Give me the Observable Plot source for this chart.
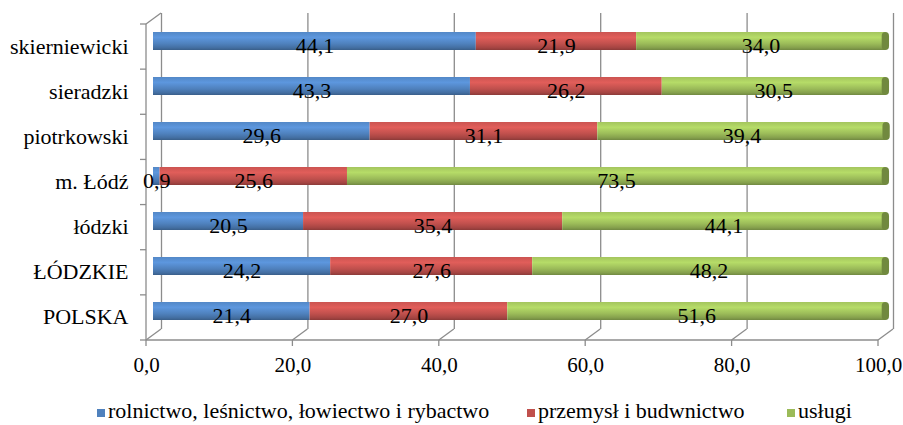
<!DOCTYPE html>
<html><head><meta charset="utf-8">
<script src="https://cdn.jsdelivr.net/npm/d3@7"></script>
<script src="https://cdn.jsdelivr.net/npm/@observablehq/plot@0.6"></script>
<style>
body{margin:0;background:#fff;font-family:'Liberation Serif';}
#wrap{position:relative;width:903px;height:425px;}
#legend{position:absolute;left:0;top:398px;width:903px;height:26px;font-family:'Liberation Serif';font-size:22px;color:#000;white-space:nowrap;}
#legend .item{position:absolute;top:0;height:26px;display:flex;align-items:center;}
#legend .sw{width:8px;height:8px;margin-right:3px;margin-top:3px;}
</style></head><body>
<div id="wrap"><div id="chart"></div><div id="legend"></div></div>
<script>
const categories = ["skierniewicki","sieradzki","piotrkowski","m. Łódź","łódzki","ŁÓDZKIE","POLSKA"];
const seriesNames = ["rolnictwo, leśnictwo, łowiectwo i rybactwo","przemysł i budwnictwo","usługi"];
const rolnictwo = [44.1,43.3,29.6,0.9,20.5,24.2,21.4];
const przemysl  = [21.9,26.2,31.1,25.6,35.4,27.6,27.0];
const uslugi    = [34.0,30.5,39.4,73.5,44.1,48.2,51.6];
const xTicks = [0,20,40,60,80,100];
const colors = ["#4f81bd","#c0504d","#9bbb59"];
const capColor = "#71893f";
const legendLeft = [97, 527, 787];

const seriesValues = [rolnictwo, przemysl, uslugi];
const rows = [];
seriesValues.forEach((vals, si) => vals.forEach((v, ci) => rows.push({category: categories[ci], series: seriesNames[si], si, value: v})));
const totals = categories.map((c, i) => ({category: c, total: rolnictwo[i] + przemysl[i] + uslugi[i]}));
const fmt = v => v.toFixed(1).replace(".", ",");

const BX = 7, BY = -6;
const FONT = "Liberation Serif";

function frame(index, scales, values, dim) {
  const g = d3.create("svg:g").attr("stroke", "#8c8c8c").attr("stroke-width", 1.3).attr("fill", "none");
  const x = scales.x;
  const top = dim.marginTop, bottom = dim.height - dim.marginBottom;
  const x0 = x(0), x1 = x(100);
  const step = (bottom - top) / categories.length;
  g.append("line").attr("x1", x0).attr("x2", x0).attr("y1", top).attr("y2", bottom);
  g.append("line").attr("x1", x0).attr("x2", x1).attr("y1", bottom).attr("y2", bottom);
  g.append("line").attr("x1", x0).attr("x2", x0 + 15).attr("y1", top).attr("y2", top - 11);
  for (const t of xTicks) {
    g.append("line").attr("x1", x(t)).attr("x2", x(t) + 15).attr("y1", bottom).attr("y2", bottom - 11);
    g.append("line").attr("x1", x(t)).attr("x2", x(t)).attr("y1", bottom).attr("y2", bottom + 6);
  }
  for (let k = 0; k <= categories.length; k++) {
    const yy = top + k * step;
    g.append("line").attr("x1", x0 - 6).attr("x2", x0).attr("y1", yy).attr("y2", yy);
  }
  return g.node();
}

const chart = Plot.plot({
  width: 903,
  height: 390,
  marginLeft: 146,
  marginRight: 25,
  marginTop: 24,
  marginBottom: 50,
  style: {fontFamily: FONT, fontSize: "22px", color: "#000", background: "#fff"},
  x: {domain: [0, 100]},
  y: {domain: categories, paddingInner: 0.6, paddingOuter: 0.3},
  color: {type: "identity"},
  marks: [
    Plot.ruleX(xTicks, {x: d => d, dx: 15, dy: -11, stroke: "#8c8c8c", strokeWidth: 1.3}),
    frame,
    Plot.axisX({ticks: xTicks, tickFormat: fmt, tickSize: 0, tickPadding: 17, fontSize: 21, fontFamily: FONT, label: null}),
    Plot.axisY({tickSize: 0, tickPadding: 18, fontSize: 22, fontFamily: FONT, dy: -1, label: null}),
    Plot.barX(rows, Plot.stackX({x: "value", y: "category", fill: d => `url(#grad${d.si})`, dx: BX, dy: BY})),
    Plot.barX(totals, {x1: d => d.total - 0.45, x2: d => d.total + 0.55, y: "category", fill: capColor, rx: 4, dx: BX, dy: BY}),
    Plot.text(rows, Plot.stackX({x: "value", y: "category", text: d => fmt(d.value), dx: BX, dy: BY + 4, fontSize: 22, fontFamily: FONT, fill: "#000"}))
  ]
});

const defs = d3.select(chart).insert("defs", ":first-child");
colors.forEach((c, i) => {
  const base = d3.color(c);
  const grad = defs.append("linearGradient").attr("id", `grad${i}`).attr("x1", 0).attr("y1", 0).attr("x2", 0).attr("y2", 1);
  const stops = [[0, base.brighter(0.15)], [0.3, base.brighter(0.45)], [0.65, base], [0.88, base.darker(0.45)], [1, base.darker(0.9)]];
  stops.forEach(([o, col]) => grad.append("stop").attr("offset", o).attr("stop-color", col.formatHex()));
});

document.getElementById("chart").appendChild(chart);

const legend = document.getElementById("legend");
seriesNames.forEach((name, i) => {
  const item = document.createElement("div");
  item.className = "item";
  item.style.left = legendLeft[i] + "px";
  const sw = document.createElement("span");
  sw.className = "sw";
  sw.style.background = colors[i];
  const label = document.createElement("span");
  label.textContent = name;
  item.appendChild(sw); item.appendChild(label);
  legend.appendChild(item);
});
</script>
</body></html>
